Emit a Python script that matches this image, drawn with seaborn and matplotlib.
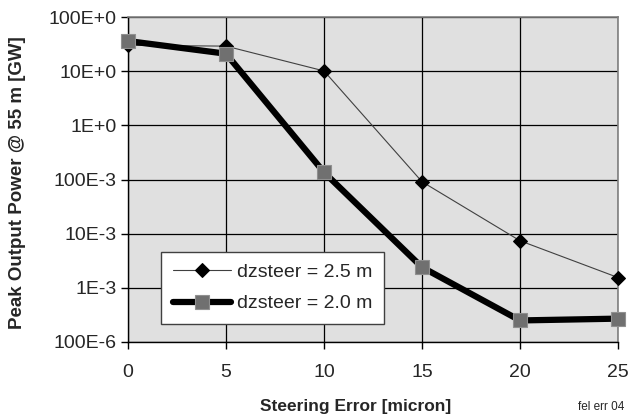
import matplotlib
matplotlib.use("Agg")
import matplotlib.pyplot as plt
import seaborn as sns
import pandas as pd
import numpy as np
from matplotlib.ticker import FixedLocator, FixedFormatter, NullLocator

# Data
steering_error = [0, 5, 10, 15, 20, 25]
power_25 = [30, 29, 10.1, 0.091, 0.0074, 0.00155]
power_20 = [36, 21, 0.136, 0.0024, 0.00025, 0.00027]
series_names = ["dzsteer = 2.5 m", "dzsteer = 2.0 m"]
ytick_vals = [1e-4, 1e-3, 1e-2, 1e-1, 1e0, 1e1, 1e2]
ytick_labels = ["100E-6", "1E-3", "10E-3", "100E-3", "1E+0", "10E+0", "100E+0"]

df = pd.DataFrame({
    "x": steering_error * 2,
    "y": power_25 + power_20,
    "series": [series_names[0]] * 6 + [series_names[1]] * 6,
})

sns.set_theme(style="white")
plt.rcParams["font.family"] = ["Liberation Sans", "DejaVu Sans"]

fig = plt.figure(figsize=(6.28, 4.2), dpi=100)
ax = fig.add_axes([128 / 628, 1 - 342 / 420, 490 / 628, 325 / 420])
ax.set_facecolor("#E0E0E0")

sns.lineplot(data=df[df.series == series_names[0]], x="x", y="y", ax=ax,
             color="#404040", linewidth=0.8, marker="D", markersize=7.5,
             markerfacecolor="black", markeredgecolor="black",
             label=series_names[0], zorder=3, clip_on=False)
sns.lineplot(data=df[df.series == series_names[1]], x="x", y="y", ax=ax,
             color="black", linewidth=4.5, marker="s", markersize=10,
             markerfacecolor="#707070", markeredgecolor="#909090", markeredgewidth=0.8,
             label=series_names[1], zorder=4, clip_on=False)

ax.set_yscale("log")
ax.set_xlim(0, 25)
ax.set_ylim(1e-4, 1e2)
ax.set_xticks(steering_error)
ax.set_xticklabels([str(v) for v in steering_error])
ax.yaxis.set_major_locator(FixedLocator(ytick_vals))
ax.yaxis.set_major_formatter(FixedFormatter(ytick_labels))
ax.yaxis.set_minor_locator(NullLocator())
ax.tick_params(axis="y", labelsize=14, length=5, width=1, color="black", direction="out", left=True, pad=3)
ax.tick_params(axis="x", labelsize=14, length=5, width=1, color="black", direction="out", bottom=True, pad=11)

ax.grid(True, which="major", color="black", linewidth=0.9)
ax.set_axisbelow(True)
for side in ["top", "right"]:
    ax.spines[side].set_color("#808080")
    ax.spines[side].set_linewidth(1.2)
for side in ["left", "bottom"]:
    ax.spines[side].set_color("black")
    ax.spines[side].set_linewidth(1)

ax.set_xlabel("Steering Error [micron]", fontsize=12.5, fontweight="bold", va="center")
ax.xaxis.set_label_coords(0.464, (342 - 407) / 325)
ax.set_ylabel("Peak Output Power @ 55 m [GW]", fontsize=13.5, fontweight="bold", va="center")
ax.yaxis.set_label_coords((18 - 128) / 490, 0.49)

leg = ax.legend(loc="lower left", bbox_to_anchor=(33 / 490, 18 / 325), fontsize=14,
                frameon=True, fancybox=False, framealpha=1, edgecolor="#404040",
                handlelength=3.0, handletextpad=0.3, borderpad=0.6, labelspacing=0.7,
                borderaxespad=0)
leg.get_frame().set_linewidth(1)

fig.text(601 / 628, 1 - 407 / 420, "fel err 04", fontsize=8.5, ha="center", va="center")

fig.savefig("out.png", dpi=100)
